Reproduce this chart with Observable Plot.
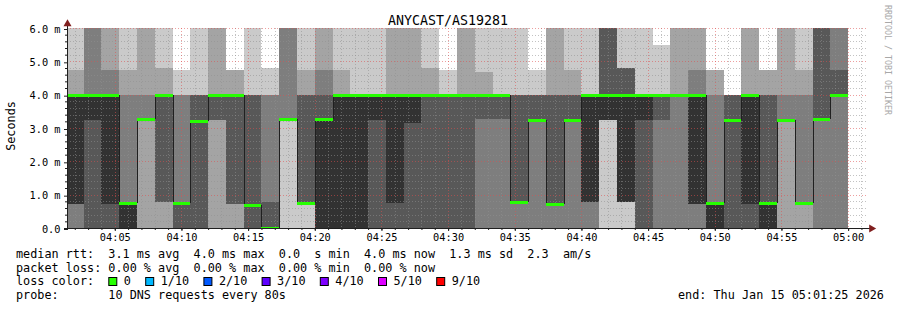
<!DOCTYPE html>
<html><head><meta charset="utf-8">
<script src="https://cdn.jsdelivr.net/npm/d3@7"></script>
<script src="https://cdn.jsdelivr.net/npm/@observablehq/plot@0.6"></script>
<style>
html,body{margin:0;padding:0;background:#fff;}
#wrap{position:relative;width:897px;height:310px;overflow:hidden;background:#fff;}
#wrap svg{position:absolute;left:0;top:0;}
</style></head><body><div id="wrap"></div>
<script>
// ---------- data ----------
const title = "ANYCAST/AS19281";
const yLabel = "Seconds";
const credit = "RRDTOOL / TOBI OETIKER";
const domainStart = "04:01:25";
const domainEnd = "05:01:25";
const stepSeconds = 80;
const slotStart = ["04:01:20","04:02:40","04:04:00","04:05:20","04:06:40","04:08:00","04:09:20","04:10:40","04:12:00","04:13:20","04:14:40","04:16:00","04:17:20","04:18:40","04:20:00","04:21:20","04:22:40","04:24:00","04:25:20","04:26:40","04:28:00","04:29:20","04:30:40","04:32:00","04:33:20","04:34:40","04:36:00","04:37:20","04:38:40","04:40:00","04:41:20","04:42:40","04:44:00","04:45:20","04:46:40","04:48:00","04:49:20","04:50:40","04:52:00","04:53:20","04:54:40","04:56:00","04:57:20","04:58:40"];
// sorted ping round-trip times (ms), rank 1 (fastest) .. rank 10 (slowest); 6.5 = off the top of the chart
const p1 = [0,0,0,0,0,0,0,0,0,0, 0,0,0,0,0,0,0,0,0,0, 0,0,0,0,0,0,0,0,0,0, 0,0,0,0,0,0,0,0,0,0, 0,0,0,0];
const p2 = [0,0,0,0,0,0,0,0,0,0, 0,0,3.28,0.74,0,0,0,0,0,0, 0,0,0,0,0,0,0,0,0,0, 3.24,0.79,0,0,0,0,0,0,0,0, 0,0,0,0];
const p3 = [0,0,0,0,3.28,0.79,0,0,3.24,0.73, 0,0,3.28,0.74,0,0,0,0,0,0, 0,0,0,0,0,0,0,0,0,0, 3.24,0.79,0,0,0,0,0,0,0,0, 3.24,0.74,0,0];
const p4 = [0.73,0,0,0,3.28,0.79,0,0,3.24,0.73, 0,0,3.28,0.74,0,0,0,0,0,0, 0,0,0,3.28,3.28,0.79,3.24,0.73,3.24,0.79, 3.24,0.79,0,3.24,4.0,0.73,0,0,0,0, 3.24,0.74,3.28,4.0];
const p5 = [0.73,3.24,0.73,0,3.28,4.0,0.74,3.2,4.0,4.0, 0.7,0,3.28,0.74,0,0,0,3.24,0.74,3.14, 4.0,4.0,4.0,4.0,4.0,0.79,3.24,0.73,3.24,0.79, 3.24,0.79,3.24,4.0,4.0,0.73,0,3.24,0.73,0, 3.24,0.74,3.28,4.0];
const p6 = [4.0,4.0,4.0,0.74,3.28,4.0,0.74,3.2,4.0,4.0, 0.7,0,3.28,0.74,3.26,4.0,4.0,4.0,4.0,4.0, 4.0,4.0,4.0,4.0,4.0,0.79,3.24,0.73,3.24,4.0, 4.0,4.0,4.0,4.0,4.0,4.0,0.74,3.24,4.0,0.74, 3.24,0.74,3.28,4.0];
const p7 = [4.0,4.0,4.0,0.74,3.28,4.0,0.74,4.0,4.0,4.0, 4.0,0.79,3.28,4.0,4.0,4.0,4.0,4.0,4.0,4.0, 4.0,4.0,4.0,4.0,4.0,4.0,4.0,4.0,4.0,4.0, 6.5,4.8,4.0,4.0,4.0,4.0,0.74,4.0,4.0,4.0, 3.24,0.74,6.5,4.74];
const p8 = [4.0,6.5,4.74,4.0,4.0,4.0,4.0,4.0,4.0,4.0, 4.0,4.0,6.5,4.0,4.74,4.0,4.0,4.0,4.0,4.0, 4.0,4.0,4.0,4.0,4.0,4.0,4.0,4.0,4.0,4.0, 6.5,4.8,4.0,4.0,4.0,4.74,4.0,4.0,4.0,4.0, 4.0,4.0,6.5,6.5];
const p9 = [4.74,6.5,6.5,4.74,6.5,4.8,4.0,4.0,6.5,4.74, 4.0,4.0,6.5,4.74,6.5,4.74,4.0,4.0,6.5,6.5, 4.8,4.0,6.5,4.69,4.0,4.0,4.0,6.5,4.74,4.0, 6.5,4.8,4.0,4.0,6.5,6.5,4.74,4.0,6.5,4.74, 6.5,4.74,6.5,6.5];
const p10 = [6.5,6.5,6.5,6.5,6.5,6.5,4.74,6.5,6.5,4.74, 6.5,4.8,6.5,6.5,6.5,6.5,6.5,6.5,6.5,6.5, 6.5,4.74,6.5,6.5,6.5,6.5,4.74,6.5,6.5,6.5, 6.5,6.5,6.5,5.49,6.5,6.5,4.74,4.0,6.5,4.74, 6.5,6.5,6.5,6.5];
const median = [4.0,4.0,4.0,0.74,3.28,4.0,0.74,3.2,4.0,4.0, 0.7,0,3.28,0.74,3.26,4.0,4.0,4.0,4.0,4.0, 4.0,4.0,4.0,4.0,4.0,0.79,3.24,0.73,3.24,4.0, 4.0,4.0,4.0,4.0,4.0,4.0,0.74,3.24,4.0,0.74, 3.24,0.74,3.28,4.0];
const yTicks = [0,1,2,3,4,5,6];
const xTicks = ["04:05","04:10","04:15","04:20","04:25","04:30","04:35","04:40","04:45","04:50","04:55","05:00"];
const statLines = [
  "median rtt:  3.1 ms avg  4.0 ms max  0.0  s min  4.0 ms now  1.3 ms sd  2.3  am/s",
  "packet loss: 0.00 % avg  0.00 % max  0.00 % min  0.00 % now"
];
const lossTitle = "loss color:";
const lossLabels = ["0","1/10","2/10","3/10","4/10","5/10","9/10"];
const lossColors = ["#26ff00","#00b8ff","#0059ff","#5e00ff","#7e00ff","#dd00ff","#ff0000"];
const probeLine = "probe:       10 DNS requests every 80s";
const endLine = "end: Thu Jan 15 05:01:25 2026";

// ---------- build ----------
const MONO = "'DejaVu Sans Mono', monospace";
const T = s => { const [h,m,sec] = s.split(":").map(Number); return new Date(Date.UTC(2026,0,15,h,m,sec||0)); };
const x0 = T(domainStart), x1 = T(domainEnd);
const pings = [p1,p2,p3,p4,p5,p6,p7,p8,p9,p10];
const rows = slotStart.map((s,i) => { const a = T(s); return {x1:a, x2:new Date(+a + stepSeconds*1000), p:pings.map(r=>r[i]), med:median[i]}; });
const steps = rows.slice(1).map((r,i) => ({x:r.x1, from:rows[i].med, to:r.med}));
const smokeFill = ["#cacaca","#a4a4a4","#7e7e7e","#585858","#323232"];
const majorX = xTicks.map(T);
const minorX = d3.utcMinute.range(x0, x1).filter(d => d.getUTCMinutes() % 5 !== 0);
const minorY = d3.range(1,30).map(i => i/5).filter(v => Math.abs(v - Math.round(v)) > 1e-6);
const majorY = yTicks.filter(v => v > 0);
const allMinuteX = d3.utcMinute.range(x0, x1);

const gridMinor = {stroke:"#8f8f8f", strokeOpacity:0.55, strokeDasharray:"1,2", shapeRendering:"crispEdges"};
const gridMajor = {stroke:"#de4f4f", strokeOpacity:0.55, strokeDasharray:"1,2", shapeRendering:"crispEdges"};
const ARROW = "#801f1f";

const chart = Plot.plot({
  width: 897, height: 250,
  marginTop: 28, marginBottom: 22, marginLeft: 67, marginRight: 30,
  style: {fontFamily: MONO, fontSize: "10.3px", color: "#000", background: "transparent", overflow: "visible"},
  x: {type: "utc", domain: [x0, x1]},
  y: {domain: [0, 6]},
  marks: [
    ...smokeFill.map((f,k) => Plot.rectY(rows, {x1:"x1", x2:"x2", y1:d=>d.p[k], y2:d=>d.p[9-k], fill:f, clip:true, shapeRendering:"crispEdges"})),
    Plot.ruleY(minorY, gridMinor),
    Plot.ruleX(minorX, gridMinor),
    Plot.ruleY(majorY, gridMajor),
    Plot.ruleX(majorX, gridMajor),
    Plot.ruleX(steps, {x:"x", y1:"from", y2:"to", stroke:"#202020", strokeWidth:1, shapeRendering:"crispEdges"}),
    Plot.ruleY(rows, {y:"med", x1:"x1", x2:"x2", stroke:"#26ff00", strokeWidth:3, clip:true, shapeRendering:"crispEdges"}),
    Plot.axisY(yTicks, {tickSize:3, tickPadding:4, tickFormat: d => d === 0 ? "0.0" : d.toFixed(1) + " m", label:null, stroke:"#1f1f1f", dy:1}),
    Plot.axisY(minorY, {tickSize:2, tickFormat: () => "", label:null, stroke:"#1f1f1f"}),
    Plot.axisX(majorX, {tickSize:3, tickPadding:2, tickFormat: d3.utcFormat("%H:%M"), label:null, stroke:"#1f1f1f"}),
    Plot.axisX(allMinuteX, {tickSize:2, tickFormat: () => "", label:null, stroke:"#1f1f1f"}),
    Plot.ruleX([x0], {stroke:"#1f1f1f", insetTop:-6, insetBottom:-2, shapeRendering:"crispEdges"}),
    Plot.ruleY([0], {stroke:"#1f1f1f", insetLeft:-3, insetRight:-3, shapeRendering:"crispEdges"}),
    Plot.dot([0], {frameAnchor:"top-left", symbol:"triangle", r:3, fill:ARROW, stroke:"none", dy:-4.5}),
    Plot.dot([0], {frameAnchor:"bottom-right", symbol:"triangle", r:3, fill:ARROW, stroke:"none", dx:4, rotate:90})
  ]
});
const wrap = document.getElementById("wrap");
wrap.appendChild(chart);

// ---------- title, credits and legend ----------
const ov = d3.create("svg").attr("width", 897).attr("height", 310)
  .style("font-family", MONO).style("pointer-events", "none");
ov.append("text").attr("x", 448).attr("y", 24.5).attr("text-anchor", "middle")
  .attr("font-size", "13.3px").attr("fill", "#000").text(title);
ov.append("text").attr("transform", "translate(15,126) rotate(-90)").attr("text-anchor", "middle")
  .attr("font-size", "11.8px").attr("fill", "#000").text(yLabel);
ov.append("text").attr("transform", "translate(884.5,5) rotate(90)").attr("text-anchor", "start")
  .attr("font-size", "8.3px").attr("fill", "#a8a8a8").text(credit);
const LF = "11.8px", baseY = [258, 271.7, 285.4, 299];
statLines.forEach((s,i) => ov.append("text").attr("x", 16).attr("y", baseY[i]).attr("font-size", LF)
  .style("white-space", "pre").attr("xml:space", "preserve").text(s));
ov.append("text").attr("x", 16).attr("y", baseY[2]).attr("font-size", LF).text(lossTitle);
let bx = 108.3;
lossLabels.forEach((lab,i) => {
  ov.append("rect").attr("x", bx + 0.5).attr("y", 277.5).attr("width", 8).attr("height", 8)
    .attr("fill", lossColors[i]).attr("stroke", "#000").attr("stroke-width", 1);
  ov.append("text").attr("x", bx + 15.5).attr("y", baseY[2]).attr("font-size", LF).text(lab);
  bx += 15.5 + lab.length * 7.1 + 14.3;
});
ov.append("text").attr("x", 16).attr("y", baseY[3]).attr("font-size", LF)
  .style("white-space", "pre").attr("xml:space", "preserve").text(probeLine);
ov.append("text").attr("x", 678).attr("y", baseY[3]).attr("font-size", LF).text(endLine);
wrap.appendChild(ov.node());
</script></body></html>
